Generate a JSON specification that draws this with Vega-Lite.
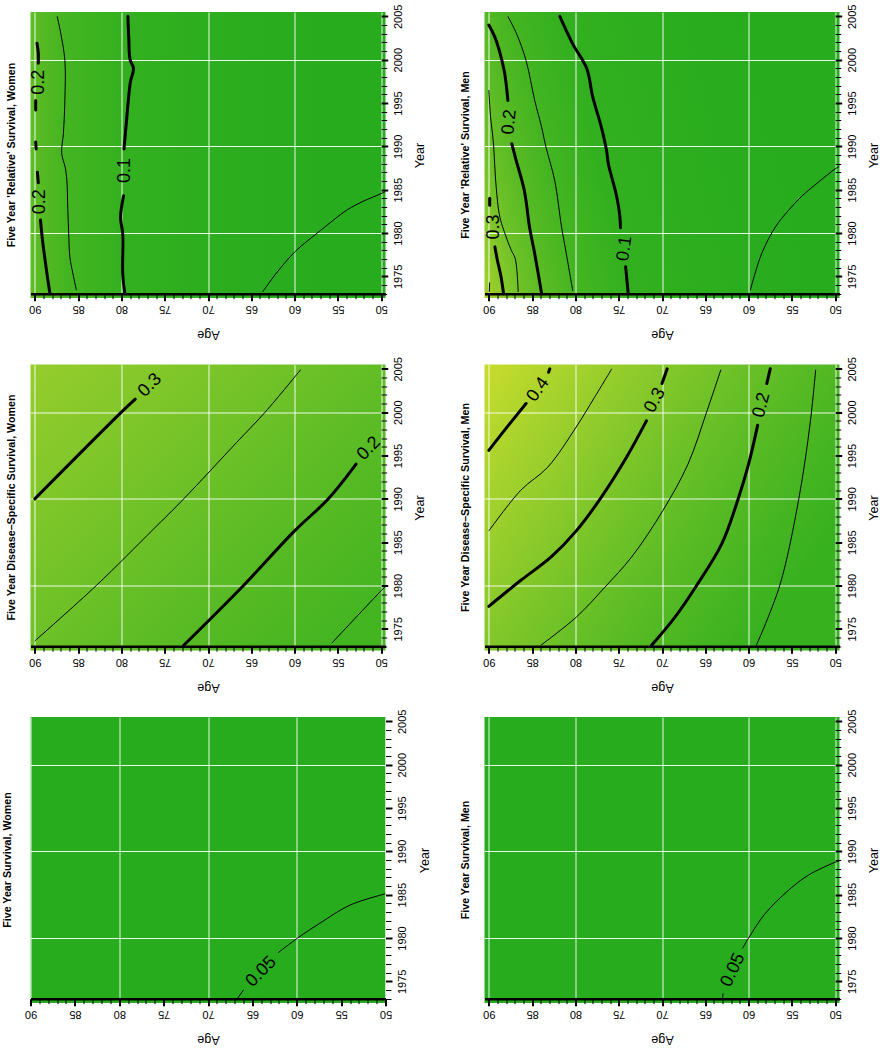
{
  "$schema": "https://vega.github.io/schema/vega-lite/v6.json",
  "padding": {"left": 1.5, "top": 4, "right": 0, "bottom": 0},
  "background": "white",
  "config": {"font": "Liberation Sans", "view": {"stroke": null}},
  "datasets": {
    "contours": [
      {"p":"RW","lev":0.2,"seg":"a","age":88.25,"year":1973},{"p":"RW","lev":0.2,"seg":"a","age":88.6,"year":1975.3},{"p":"RW","lev":0.2,"seg":"a","age":88.9,"year":1977.5},{"p":"RW","lev":0.2,"seg":"a","age":89.15,"year":1979.5},{"p":"RW","lev":0.2,"seg":"a","age":89.35,"year":1981.5},
      {"p":"RW","lev":0.2,"seg":"b","age":89.6,"year":1985.8},{"p":"RW","lev":0.2,"seg":"b","age":89.7,"year":1987.0},
      {"p":"RW","lev":0.2,"seg":"c","age":89.85,"year":1989.7},{"p":"RW","lev":0.2,"seg":"c","age":89.9,"year":1990.5},
      {"p":"RW","lev":0.2,"seg":"d","age":89.9,"year":1994.2},{"p":"RW","lev":0.2,"seg":"d","age":89.9,"year":1995.3},
      {"p":"RW","lev":0.2,"seg":"e","age":89.6,"year":1999.6},{"p":"RW","lev":0.2,"seg":"e","age":89.6,"year":2000.8},{"p":"RW","lev":0.2,"seg":"e","age":89.75,"year":2001.9},
      {"p":"RW","lev":0.15,"seg":"f","age":87.42,"year":2005},{"p":"RW","lev":0.15,"seg":"f","age":87.0,"year":2003},{"p":"RW","lev":0.15,"seg":"f","age":86.53,"year":1999.9},{"p":"RW","lev":0.15,"seg":"f","age":86.53,"year":1995.3},{"p":"RW","lev":0.15,"seg":"f","age":86.7,"year":1991.5},{"p":"RW","lev":0.15,"seg":"f","age":86.9,"year":1989.2},{"p":"RW","lev":0.15,"seg":"f","age":86.5,"year":1987.6},{"p":"RW","lev":0.15,"seg":"f","age":86.3,"year":1986.1},{"p":"RW","lev":0.15,"seg":"f","age":86.2,"year":1983},{"p":"RW","lev":0.15,"seg":"f","age":86.1,"year":1980.3},{"p":"RW","lev":0.15,"seg":"f","age":85.95,"year":1977.2},{"p":"RW","lev":0.15,"seg":"f","age":85.6,"year":1975.3},{"p":"RW","lev":0.15,"seg":"f","age":85.2,"year":1973.4},
      {"p":"RW","lev":0.1,"seg":"g","age":79.6,"year":1973},{"p":"RW","lev":0.1,"seg":"g","age":79.85,"year":1975.3},{"p":"RW","lev":0.1,"seg":"g","age":79.85,"year":1979.9},{"p":"RW","lev":0.1,"seg":"g","age":80.1,"year":1981.8},{"p":"RW","lev":0.1,"seg":"g","age":79.75,"year":1984.3},
      {"p":"RW","lev":0.1,"seg":"h","age":79.7,"year":1989.7},{"p":"RW","lev":0.1,"seg":"h","age":79.45,"year":1992.5},{"p":"RW","lev":0.1,"seg":"h","age":79.2,"year":1995.3},{"p":"RW","lev":0.1,"seg":"h","age":78.95,"year":1997.5},{"p":"RW","lev":0.1,"seg":"h","age":78.6,"year":1999},{"p":"RW","lev":0.1,"seg":"h","age":79.0,"year":2000},{"p":"RW","lev":0.1,"seg":"h","age":79.15,"year":2002.5},{"p":"RW","lev":0.1,"seg":"h","age":79.25,"year":2005},
      {"p":"RW","lev":0.05,"seg":"i","age":63.7,"year":1973.2},{"p":"RW","lev":0.05,"seg":"i","age":62.0,"year":1975.5},{"p":"RW","lev":0.05,"seg":"i","age":60.0,"year":1977.8},{"p":"RW","lev":0.05,"seg":"i","age":58.5,"year":1979.1},{"p":"RW","lev":0.05,"seg":"i","age":57.0,"year":1980.3},{"p":"RW","lev":0.05,"seg":"i","age":55.5,"year":1981.5},{"p":"RW","lev":0.05,"seg":"i","age":53.9,"year":1982.7},{"p":"RW","lev":0.05,"seg":"i","age":52.0,"year":1983.7},{"p":"RW","lev":0.05,"seg":"i","age":50.1,"year":1984.5},{"p":"RW","lev":0.05,"seg":"i","age":49.5,"year":1984.8},

      {"p":"RM","lev":0.3,"seg":"a","age":88.3,"year":1973},{"p":"RM","lev":0.3,"seg":"a","age":88.6,"year":1975},{"p":"RM","lev":0.3,"seg":"a","age":89.0,"year":1976.8},{"p":"RM","lev":0.3,"seg":"a","age":89.3,"year":1978.4},
      {"p":"RM","lev":0.3,"seg":"b","age":89.9,"year":1983.2},{"p":"RM","lev":0.3,"seg":"b","age":89.9,"year":1984.0},
      {"p":"RM","lev":0.35,"seg":"c","age":89.95,"year":1973.2},{"p":"RM","lev":0.35,"seg":"c","age":89.9,"year":1974.3},
      {"p":"RM","lev":0.25,"seg":"d","age":90,"year":1996.5},{"p":"RM","lev":0.25,"seg":"d","age":89.8,"year":1993.4},{"p":"RM","lev":0.25,"seg":"d","age":89.5,"year":1990.7},{"p":"RM","lev":0.25,"seg":"d","age":89.15,"year":1985.3},{"p":"RM","lev":0.25,"seg":"d","age":88.8,"year":1982.2},{"p":"RM","lev":0.25,"seg":"d","age":88.4,"year":1980.7},{"p":"RM","lev":0.25,"seg":"d","age":87.4,"year":1978},{"p":"RM","lev":0.25,"seg":"d","age":87.0,"year":1977.2},{"p":"RM","lev":0.25,"seg":"d","age":86.8,"year":1976.1},{"p":"RM","lev":0.25,"seg":"d","age":86.6,"year":1973.2},
      {"p":"RM","lev":0.2,"seg":"e","age":90,"year":2004},{"p":"RM","lev":0.2,"seg":"e","age":89.3,"year":2002.6},{"p":"RM","lev":0.2,"seg":"e","age":88.8,"year":2001.1},{"p":"RM","lev":0.2,"seg":"e","age":88.2,"year":1998.6},{"p":"RM","lev":0.2,"seg":"e","age":88.0,"year":1997.2},{"p":"RM","lev":0.2,"seg":"e","age":87.8,"year":1995.3},
      {"p":"RM","lev":0.2,"seg":"f","age":87.35,"year":1990.3},{"p":"RM","lev":0.2,"seg":"f","age":86.85,"year":1988.4},{"p":"RM","lev":0.2,"seg":"f","age":85.9,"year":1984.9},{"p":"RM","lev":0.2,"seg":"f","age":85.3,"year":1980.7},{"p":"RM","lev":0.2,"seg":"f","age":84.7,"year":1977.6},{"p":"RM","lev":0.2,"seg":"f","age":83.9,"year":1973},
      {"p":"RM","lev":0.15,"seg":"g","age":87.8,"year":2005},{"p":"RM","lev":0.15,"seg":"g","age":86.8,"year":2003},{"p":"RM","lev":0.15,"seg":"g","age":85.7,"year":1999.9},{"p":"RM","lev":0.15,"seg":"g","age":84.7,"year":1995.3},{"p":"RM","lev":0.15,"seg":"g","age":83.9,"year":1992.2},{"p":"RM","lev":0.15,"seg":"g","age":83.4,"year":1989.9},{"p":"RM","lev":0.15,"seg":"g","age":82.4,"year":1986.1},{"p":"RM","lev":0.15,"seg":"g","age":81.6,"year":1980.7},{"p":"RM","lev":0.15,"seg":"g","age":81.05,"year":1977.6},{"p":"RM","lev":0.15,"seg":"g","age":80.3,"year":1973.3},
      {"p":"RM","lev":0.1,"seg":"h","age":81.8,"year":2005},{"p":"RM","lev":0.1,"seg":"h","age":80.3,"year":2001.8},{"p":"RM","lev":0.1,"seg":"h","age":78.7,"year":1999.0},{"p":"RM","lev":0.1,"seg":"h","age":78.0,"year":1995.7},{"p":"RM","lev":0.1,"seg":"h","age":77.0,"year":1992.2},{"p":"RM","lev":0.1,"seg":"h","age":76.4,"year":1989.5},{"p":"RM","lev":0.1,"seg":"h","age":76.2,"year":1988.0},{"p":"RM","lev":0.1,"seg":"h","age":75.3,"year":1984.5},{"p":"RM","lev":0.1,"seg":"h","age":74.9,"year":1982.2},{"p":"RM","lev":0.1,"seg":"h","age":74.8,"year":1980.6},
      {"p":"RM","lev":0.1,"seg":"i","age":74.2,"year":1976.1},{"p":"RM","lev":0.1,"seg":"i","age":73.9,"year":1973},
      {"p":"RM","lev":0.05,"seg":"j","age":59.8,"year":1973.4},{"p":"RM","lev":0.05,"seg":"j","age":58.5,"year":1977.6},{"p":"RM","lev":0.05,"seg":"j","age":56.9,"year":1980.7},{"p":"RM","lev":0.05,"seg":"j","age":55.4,"year":1982.6},{"p":"RM","lev":0.05,"seg":"j","age":53.9,"year":1984.2},{"p":"RM","lev":0.05,"seg":"j","age":51.9,"year":1985.9},{"p":"RM","lev":0.05,"seg":"j","age":50.0,"year":1987.4},{"p":"RM","lev":0.05,"seg":"j","age":49.5,"year":1987.7},

      {"p":"DW","lev":0.3,"seg":"a","age":90,"year":1990},{"p":"DW","lev":0.3,"seg":"a","age":80,"year":2000},{"p":"DW","lev":0.3,"seg":"a","age":78.4,"year":2001.5},
      {"p":"DW","lev":0.25,"seg":"b","age":90,"year":1973.6},{"p":"DW","lev":0.25,"seg":"b","age":82.9,"year":1980},{"p":"DW","lev":0.25,"seg":"b","age":76.3,"year":1986.5},{"p":"DW","lev":0.25,"seg":"b","age":72.8,"year":1990},{"p":"DW","lev":0.25,"seg":"b","age":66.7,"year":1996.5},{"p":"DW","lev":0.25,"seg":"b","age":63.4,"year":2000},{"p":"DW","lev":0.25,"seg":"b","age":59.3,"year":2004.9},
      {"p":"DW","lev":0.2,"seg":"c","age":72.8,"year":1973.1},{"p":"DW","lev":0.2,"seg":"c","age":65.9,"year":1980},{"p":"DW","lev":0.2,"seg":"c","age":60,"year":1986.3},{"p":"DW","lev":0.2,"seg":"c","age":56.1,"year":1990},{"p":"DW","lev":0.2,"seg":"c","age":52.9,"year":1994},
      {"p":"DW","lev":0.15,"seg":"d","age":55.7,"year":1973.35},{"p":"DW","lev":0.15,"seg":"d","age":50,"year":1979.4},{"p":"DW","lev":0.15,"seg":"d","age":49.5,"year":1979.9},

      {"p":"DM","lev":0.4,"seg":"a","age":90,"year":1995.6},{"p":"DM","lev":0.4,"seg":"a","age":88.2,"year":1997.9},{"p":"DM","lev":0.4,"seg":"a","age":85.7,"year":2001.0},
      {"p":"DM","lev":0.4,"seg":"b","age":83.1,"year":2004.6},{"p":"DM","lev":0.4,"seg":"b","age":82.95,"year":2005},
      {"p":"DM","lev":0.35,"seg":"c","age":90,"year":1986.3},{"p":"DM","lev":0.35,"seg":"c","age":86.3,"year":1991.0},{"p":"DM","lev":0.35,"seg":"c","age":83.2,"year":1993.65},{"p":"DM","lev":0.35,"seg":"c","age":79.9,"year":1998.3},{"p":"DM","lev":0.35,"seg":"c","age":77.8,"year":2001.7},{"p":"DM","lev":0.35,"seg":"c","age":75.8,"year":2005},
      {"p":"DM","lev":0.3,"seg":"d","age":90,"year":1977.6},{"p":"DM","lev":0.3,"seg":"d","age":86.3,"year":1980.6},{"p":"DM","lev":0.3,"seg":"d","age":82.8,"year":1983.3},{"p":"DM","lev":0.3,"seg":"d","age":79.9,"year":1986.3},{"p":"DM","lev":0.3,"seg":"d","age":77.0,"year":1990.2},{"p":"DM","lev":0.3,"seg":"d","age":74.1,"year":1994.8},{"p":"DM","lev":0.3,"seg":"d","age":71.8,"year":1999.0},
      {"p":"DM","lev":0.3,"seg":"e","age":70.0,"year":2003.3},{"p":"DM","lev":0.3,"seg":"e","age":69.4,"year":2005},
      {"p":"DM","lev":0.25,"seg":"f","age":84.0,"year":1973.1},{"p":"DM","lev":0.25,"seg":"f","age":79.9,"year":1976.35},{"p":"DM","lev":0.25,"seg":"f","age":76.6,"year":1979.8},{"p":"DM","lev":0.25,"seg":"f","age":73.5,"year":1983.3},{"p":"DM","lev":0.25,"seg":"f","age":69.9,"year":1988.65},{"p":"DM","lev":0.25,"seg":"f","age":67.0,"year":1994.0},{"p":"DM","lev":0.25,"seg":"f","age":64.85,"year":2000},{"p":"DM","lev":0.25,"seg":"f","age":63.2,"year":2004.9},
      {"p":"DM","lev":0.2,"seg":"g","age":71.2,"year":1973.1},{"p":"DM","lev":0.2,"seg":"g","age":68.5,"year":1976.35},{"p":"DM","lev":0.2,"seg":"g","age":66.0,"year":1980},{"p":"DM","lev":0.2,"seg":"g","age":63.1,"year":1984.8},{"p":"DM","lev":0.2,"seg":"g","age":61.2,"year":1990},{"p":"DM","lev":0.2,"seg":"g","age":60.0,"year":1994.0},{"p":"DM","lev":0.2,"seg":"g","age":58.95,"year":1998.5},
      {"p":"DM","lev":0.2,"seg":"h","age":57.9,"year":2003.3},{"p":"DM","lev":0.2,"seg":"h","age":57.5,"year":2005},
      {"p":"DM","lev":0.15,"seg":"i","age":59.1,"year":1973.1},{"p":"DM","lev":0.15,"seg":"i","age":56.4,"year":1980},{"p":"DM","lev":0.15,"seg":"i","age":54.2,"year":1990},{"p":"DM","lev":0.15,"seg":"i","age":52.9,"year":1998.65},{"p":"DM","lev":0.15,"seg":"i","age":52.25,"year":2004.9},

      {"p":"FW","lev":0.05,"seg":"a","age":66.7,"year":1973.0},{"p":"FW","lev":0.05,"seg":"a","age":66.0,"year":1974.0},
      {"p":"FW","lev":0.05,"seg":"b","age":62.1,"year":1978.3},{"p":"FW","lev":0.05,"seg":"b","age":59.9,"year":1980.0},{"p":"FW","lev":0.05,"seg":"b","age":57.4,"year":1981.7},{"p":"FW","lev":0.05,"seg":"b","age":54.0,"year":1983.8},{"p":"FW","lev":0.05,"seg":"b","age":50.0,"year":1985.1},

      {"p":"FM","lev":0.05,"seg":"a","age":63.0,"year":1973.1},{"p":"FM","lev":0.05,"seg":"a","age":62.95,"year":1973.6},
      {"p":"FM","lev":0.05,"seg":"b","age":60.7,"year":1978.8},{"p":"FM","lev":0.05,"seg":"b","age":60.0,"year":1980.0},{"p":"FM","lev":0.05,"seg":"b","age":58.1,"year":1982.8},{"p":"FM","lev":0.05,"seg":"b","age":55.4,"year":1985.5},{"p":"FM","lev":0.05,"seg":"b","age":53.1,"year":1987.25},{"p":"FM","lev":0.05,"seg":"b","age":50.1,"year":1988.7},{"p":"FM","lev":0.05,"seg":"b","age":49.5,"year":1988.9}
    ],
    "labels": [
      {"p":"RW","lab":"0.2","age":89.45,"year":1983.6},
      {"p":"RW","lab":"0.2","age":89.5,"year":1997.4},
      {"p":"RW","lab":"0.1","age":79.6,"year":1987.2},
      {"p":"RM","lab":"0.3","age":89.4,"year":1980.7},
      {"p":"RM","lab":"0.2","age":87.6,"year":1992.8},
      {"p":"RM","lab":"0.1","age":74.3,"year":1978.2},
      {"p":"DW","lab":"0.3","age":76.7,"year":2003.1},
      {"p":"DW","lab":"0.2","age":51.4,"year":1995.8},
      {"p":"DM","lab":"0.4","age":84.3,"year":2002.6},
      {"p":"DM","lab":"0.3","age":70.8,"year":2001.35},
      {"p":"DM","lab":"0.2","age":58.5,"year":2000.8},
      {"p":"FW","lab":"0.05","age":64.0,"year":1976.1},
      {"p":"FM","lab":"0.05","age":61.8,"year":1976.3}
    ]
  },
  "columns": 2,
  "spacing": {"row": 66.5, "column": 99},
  "bounds": "flush",
  "concat": [
    {
      "width": 355, "height": 286,
      "view": {"stroke": null, "fill": {"gradient": "linear", "x1": 0, "y1": 0, "x2": 1, "y2": 0, "stops": [{"offset": 0, "color": "#60bd25"}, {"offset": 0.03, "color": "#57ba24"}, {"offset": 0.1, "color": "#44b521"}, {"offset": 0.27, "color": "#33b01f"}, {"offset": 0.6, "color": "#2aad1e"}, {"offset": 1, "color": "#26ac1d"}]}},
      "title": {"text": "Five Year 'Relative' Survival, Women", "orient": "left", "anchor": "middle", "fontSize": 10.7, "fontWeight": "bold", "offset": 11, "frame": "group", "color": "black"},
      "encoding": {
        "x": {"field": "age", "type": "quantitative", "scale": {"domain": [49.5, 90.5], "reverse": true, "nice": false, "zero": false},
          "axis": {"values": [50,51,52,53,54,55,56,57,58,59,60,61,62,63,64,65,66,67,68,69,70,71,72,73,74,75,76,77,78,79,80,81,82,83,84,85,86,87,88,89,90], "format": "d", "offset": -4.3, "domain": true, "domainColor": "black", "domainWidth": 2.5, "tickColor": "black", "tickSize": {"condition": {"test": "datum.value % 5 == 0", "value": 7}, "value": 5}, "tickWidth": {"condition": {"test": "datum.value % 5 == 0", "value": 2}, "value": 1}, "labelExpr": "datum.value % 5 == 0 ? datum.label : ''", "labelAngle": 180, "labelAlign": "center", "labelBaseline": "bottom", "labelFontSize": 11, "labelColor": "black", "labelPadding": 3, "labelFlush": false, "labelOverlap": false, "labelBound": false, "grid": true, "gridColor": "white", "gridWidth": 1, "gridOpacity": {"condition": {"test": "datum.value % 10 == 0", "value": 0.9}, "value": 0}, "title": "Age", "titleAngle": 180, "titleBaseline": "bottom", "titleFontSize": 12.5, "titleFontWeight": "normal", "titleColor": "black", "titlePadding": 13}},
        "y": {"field": "year", "type": "quantitative", "scale": {"domain": [1972.5, 2005.5], "nice": false, "zero": false},
          "axis": {"orient": "right", "values": [1973,1974,1975,1976,1977,1978,1979,1980,1981,1982,1983,1984,1985,1986,1987,1988,1989,1990,1991,1992,1993,1994,1995,1996,1997,1998,1999,2000,2001,2002,2003,2004,2005], "format": "d", "offset": -4.3, "domain": false, "tickColor": "black", "tickSize": {"condition": {"test": "datum.value % 5 == 0", "value": 6.5}, "value": 5.5}, "tickWidth": {"condition": {"test": "datum.value % 5 == 0", "value": 2}, "value": 1}, "labelExpr": "datum.value % 5 == 0 ? datum.label : ''", "labelAngle": 270, "labelAlign": "center", "labelBaseline": "top", "labelFontSize": 11, "labelColor": "black", "labelPadding": 4.5, "labelFlush": false, "labelOverlap": false, "labelBound": false, "grid": true, "gridColor": "white", "gridWidth": 1, "gridOpacity": {"condition": {"test": "datum.value % 10 == 0", "value": 0.9}, "value": 0}, "title": "Year", "titleAngle": 270, "titleBaseline": "top", "titleFontSize": 12.5, "titleFontWeight": "normal", "titleColor": "black", "titlePadding": 10.5}}
      },
      "layer": [
        {"data": {"values": [{}]}, "mark": {"type": "rule", "color": "black", "strokeWidth": 2.5}, "encoding": {"x": {"datum": 50}, "y": {"datum": 1975}, "y2": {"datum": 2005}}},
        {"data": {"name": "contours"}, "transform": [{"filter": "datum.p == 'RW' && round(datum.lev * 100) % 10 == 0"}], "mark": {"type": "line", "color": "black", "strokeWidth": 3, "strokeCap": "round", "interpolate": "catmull-rom", "clip": true}, "encoding": {"detail": {"field": "seg", "type": "nominal"}, "order": {"value": null}}},
        {"data": {"name": "contours"}, "transform": [{"filter": "datum.p == 'RW' && round(datum.lev * 100) % 10 != 0"}], "mark": {"type": "line", "color": "black", "strokeWidth": 1, "interpolate": "catmull-rom", "clip": true}, "encoding": {"detail": {"field": "seg", "type": "nominal"}, "order": {"value": null}}},
        {"data": {"name": "labels"}, "transform": [{"filter": "datum.p == 'RW'"}], "mark": {"type": "text", "angle": 270, "fontSize": 18, "align": "center", "baseline": "middle", "color": "black"}, "encoding": {"text": {"field": "lab"}}}
      ]
    },
    {
      "width": 355, "height": 286,
      "view": {"stroke": null, "fill": {"gradient": "linear", "x1": 0, "y1": 1, "x2": 1, "y2": 0.8, "stops": [{"offset": 0, "color": "#a3d12c"}, {"offset": 0.06, "color": "#86c82a"}, {"offset": 0.11, "color": "#6cc127"}, {"offset": 0.18, "color": "#57ba24"}, {"offset": 0.26, "color": "#44b521"}, {"offset": 0.4, "color": "#33b01f"}, {"offset": 0.75, "color": "#29ad1e"}, {"offset": 1, "color": "#26ac1d"}]}},
      "title": {"text": "Five Year 'Relative' Survival, Men", "orient": "left", "anchor": "middle", "fontSize": 10.7, "fontWeight": "bold", "offset": 11, "frame": "group", "color": "black"},
      "encoding": {
        "x": {"field": "age", "type": "quantitative", "scale": {"domain": [49.5, 90.5], "reverse": true, "nice": false, "zero": false},
          "axis": {"values": [50,51,52,53,54,55,56,57,58,59,60,61,62,63,64,65,66,67,68,69,70,71,72,73,74,75,76,77,78,79,80,81,82,83,84,85,86,87,88,89,90], "format": "d", "offset": -4.3, "domain": true, "domainColor": "black", "domainWidth": 2.5, "tickColor": "black", "tickSize": {"condition": {"test": "datum.value % 5 == 0", "value": 7}, "value": 5}, "tickWidth": {"condition": {"test": "datum.value % 5 == 0", "value": 2}, "value": 1}, "labelExpr": "datum.value % 5 == 0 ? datum.label : ''", "labelAngle": 180, "labelAlign": "center", "labelBaseline": "bottom", "labelFontSize": 11, "labelColor": "black", "labelPadding": 3, "labelFlush": false, "labelOverlap": false, "labelBound": false, "grid": true, "gridColor": "white", "gridWidth": 1, "gridOpacity": {"condition": {"test": "datum.value % 10 == 0", "value": 0.9}, "value": 0}, "title": "Age", "titleAngle": 180, "titleBaseline": "bottom", "titleFontSize": 12.5, "titleFontWeight": "normal", "titleColor": "black", "titlePadding": 13}},
        "y": {"field": "year", "type": "quantitative", "scale": {"domain": [1972.5, 2005.5], "nice": false, "zero": false},
          "axis": {"orient": "right", "values": [1973,1974,1975,1976,1977,1978,1979,1980,1981,1982,1983,1984,1985,1986,1987,1988,1989,1990,1991,1992,1993,1994,1995,1996,1997,1998,1999,2000,2001,2002,2003,2004,2005], "format": "d", "offset": -4.3, "domain": false, "tickColor": "black", "tickSize": {"condition": {"test": "datum.value % 5 == 0", "value": 6.5}, "value": 5.5}, "tickWidth": {"condition": {"test": "datum.value % 5 == 0", "value": 2}, "value": 1}, "labelExpr": "datum.value % 5 == 0 ? datum.label : ''", "labelAngle": 270, "labelAlign": "center", "labelBaseline": "top", "labelFontSize": 11, "labelColor": "black", "labelPadding": 4.5, "labelFlush": false, "labelOverlap": false, "labelBound": false, "grid": true, "gridColor": "white", "gridWidth": 1, "gridOpacity": {"condition": {"test": "datum.value % 10 == 0", "value": 0.9}, "value": 0}, "title": "Year", "titleAngle": 270, "titleBaseline": "top", "titleFontSize": 12.5, "titleFontWeight": "normal", "titleColor": "black", "titlePadding": 10.5}}
      },
      "layer": [
        {"data": {"values": [{}]}, "mark": {"type": "rule", "color": "black", "strokeWidth": 2.5}, "encoding": {"x": {"datum": 50}, "y": {"datum": 1975}, "y2": {"datum": 2005}}},
        {"data": {"name": "contours"}, "transform": [{"filter": "datum.p == 'RM' && round(datum.lev * 100) % 10 == 0"}], "mark": {"type": "line", "color": "black", "strokeWidth": 3, "strokeCap": "round", "interpolate": "catmull-rom", "clip": true}, "encoding": {"detail": {"field": "seg", "type": "nominal"}, "order": {"value": null}}},
        {"data": {"name": "contours"}, "transform": [{"filter": "datum.p == 'RM' && round(datum.lev * 100) % 10 != 0"}], "mark": {"type": "line", "color": "black", "strokeWidth": 1, "interpolate": "catmull-rom", "clip": true}, "encoding": {"detail": {"field": "seg", "type": "nominal"}, "order": {"value": null}}},
        {"data": {"name": "labels"}, "transform": [{"filter": "datum.p == 'RM' && datum.lab == '0.3'"}], "mark": {"type": "text", "angle": 270, "fontSize": 18, "align": "center", "baseline": "middle", "color": "black"}, "encoding": {"text": {"field": "lab"}}},
        {"data": {"name": "labels"}, "transform": [{"filter": "datum.p == 'RM' && datum.lab == '0.2'"}], "mark": {"type": "text", "angle": 276, "fontSize": 18, "align": "center", "baseline": "middle", "color": "black"}, "encoding": {"text": {"field": "lab"}}},
        {"data": {"name": "labels"}, "transform": [{"filter": "datum.p == 'RM' && datum.lab == '0.1'"}], "mark": {"type": "text", "angle": 278, "fontSize": 18, "align": "center", "baseline": "middle", "color": "black"}, "encoding": {"text": {"field": "lab"}}}
      ]
    },
    {
      "width": 355, "height": 286,
      "view": {"stroke": null, "fill": {"gradient": "linear", "x1": 0, "y1": 0, "x2": 1, "y2": 0.806, "stops": [{"offset": 0, "color": "#96cd2c"}, {"offset": 0.237, "color": "#82c72a"}, {"offset": 0.486, "color": "#6cc127"}, {"offset": 0.738, "color": "#57ba24"}, {"offset": 1, "color": "#43b521"}]}},
      "title": {"text": "Five Year Disease\u2013Specific Survival, Women", "orient": "left", "anchor": "middle", "fontSize": 10.7, "fontWeight": "bold", "offset": 11, "frame": "group", "color": "black"},
      "encoding": {
        "x": {"field": "age", "type": "quantitative", "scale": {"domain": [49.5, 90.5], "reverse": true, "nice": false, "zero": false},
          "axis": {"values": [50,51,52,53,54,55,56,57,58,59,60,61,62,63,64,65,66,67,68,69,70,71,72,73,74,75,76,77,78,79,80,81,82,83,84,85,86,87,88,89,90], "format": "d", "offset": -4.3, "domain": true, "domainColor": "black", "domainWidth": 2.5, "tickColor": "black", "tickSize": {"condition": {"test": "datum.value % 5 == 0", "value": 7}, "value": 5}, "tickWidth": {"condition": {"test": "datum.value % 5 == 0", "value": 2}, "value": 1}, "labelExpr": "datum.value % 5 == 0 ? datum.label : ''", "labelAngle": 180, "labelAlign": "center", "labelBaseline": "bottom", "labelFontSize": 11, "labelColor": "black", "labelPadding": 3, "labelFlush": false, "labelOverlap": false, "labelBound": false, "grid": true, "gridColor": "white", "gridWidth": 1, "gridOpacity": {"condition": {"test": "datum.value % 10 == 0", "value": 0.9}, "value": 0}, "title": "Age", "titleAngle": 180, "titleBaseline": "bottom", "titleFontSize": 12.5, "titleFontWeight": "normal", "titleColor": "black", "titlePadding": 13}},
        "y": {"field": "year", "type": "quantitative", "scale": {"domain": [1972.5, 2005.5], "nice": false, "zero": false},
          "axis": {"orient": "right", "values": [1973,1974,1975,1976,1977,1978,1979,1980,1981,1982,1983,1984,1985,1986,1987,1988,1989,1990,1991,1992,1993,1994,1995,1996,1997,1998,1999,2000,2001,2002,2003,2004,2005], "format": "d", "offset": -4.3, "domain": false, "tickColor": "black", "tickSize": {"condition": {"test": "datum.value % 5 == 0", "value": 6.5}, "value": 5.5}, "tickWidth": {"condition": {"test": "datum.value % 5 == 0", "value": 2}, "value": 1}, "labelExpr": "datum.value % 5 == 0 ? datum.label : ''", "labelAngle": 270, "labelAlign": "center", "labelBaseline": "top", "labelFontSize": 11, "labelColor": "black", "labelPadding": 4.5, "labelFlush": false, "labelOverlap": false, "labelBound": false, "grid": true, "gridColor": "white", "gridWidth": 1, "gridOpacity": {"condition": {"test": "datum.value % 10 == 0", "value": 0.9}, "value": 0}, "title": "Year", "titleAngle": 270, "titleBaseline": "top", "titleFontSize": 12.5, "titleFontWeight": "normal", "titleColor": "black", "titlePadding": 10.5}}
      },
      "layer": [
        {"data": {"values": [{}]}, "mark": {"type": "rule", "color": "black", "strokeWidth": 2.5}, "encoding": {"x": {"datum": 50}, "y": {"datum": 1975}, "y2": {"datum": 2005}}},
        {"data": {"name": "contours"}, "transform": [{"filter": "datum.p == 'DW' && round(datum.lev * 100) % 10 == 0"}], "mark": {"type": "line", "color": "black", "strokeWidth": 3, "strokeCap": "round", "interpolate": "catmull-rom", "clip": true}, "encoding": {"detail": {"field": "seg", "type": "nominal"}, "order": {"value": null}}},
        {"data": {"name": "contours"}, "transform": [{"filter": "datum.p == 'DW' && round(datum.lev * 100) % 10 != 0"}], "mark": {"type": "line", "color": "black", "strokeWidth": 1, "interpolate": "catmull-rom", "clip": true}, "encoding": {"detail": {"field": "seg", "type": "nominal"}, "order": {"value": null}}},
        {"data": {"name": "labels"}, "transform": [{"filter": "datum.p == 'DW'"}], "mark": {"type": "text", "angle": 315, "fontSize": 18, "align": "center", "baseline": "middle", "color": "black"}, "encoding": {"text": {"field": "lab"}}}
      ]
    },
    {
      "width": 355, "height": 286,
      "view": {"stroke": null, "fill": {"gradient": "linear", "x1": 0, "y1": 0, "x2": 1, "y2": 0.53, "stops": [{"offset": 0, "color": "#c9dc2b"}, {"offset": 0.145, "color": "#afd52d"}, {"offset": 0.28, "color": "#98ce2c"}, {"offset": 0.42, "color": "#82c72a"}, {"offset": 0.56, "color": "#6cc127"}, {"offset": 0.72, "color": "#57ba24"}, {"offset": 0.88, "color": "#44b521"}, {"offset": 1, "color": "#38b11f"}]}},
      "title": {"text": "Five Year Disease\u2013Specific Survival, Men", "orient": "left", "anchor": "middle", "fontSize": 10.7, "fontWeight": "bold", "offset": 11, "frame": "group", "color": "black"},
      "encoding": {
        "x": {"field": "age", "type": "quantitative", "scale": {"domain": [49.5, 90.5], "reverse": true, "nice": false, "zero": false},
          "axis": {"values": [50,51,52,53,54,55,56,57,58,59,60,61,62,63,64,65,66,67,68,69,70,71,72,73,74,75,76,77,78,79,80,81,82,83,84,85,86,87,88,89,90], "format": "d", "offset": -4.3, "domain": true, "domainColor": "black", "domainWidth": 2.5, "tickColor": "black", "tickSize": {"condition": {"test": "datum.value % 5 == 0", "value": 7}, "value": 5}, "tickWidth": {"condition": {"test": "datum.value % 5 == 0", "value": 2}, "value": 1}, "labelExpr": "datum.value % 5 == 0 ? datum.label : ''", "labelAngle": 180, "labelAlign": "center", "labelBaseline": "bottom", "labelFontSize": 11, "labelColor": "black", "labelPadding": 3, "labelFlush": false, "labelOverlap": false, "labelBound": false, "grid": true, "gridColor": "white", "gridWidth": 1, "gridOpacity": {"condition": {"test": "datum.value % 10 == 0", "value": 0.9}, "value": 0}, "title": "Age", "titleAngle": 180, "titleBaseline": "bottom", "titleFontSize": 12.5, "titleFontWeight": "normal", "titleColor": "black", "titlePadding": 13}},
        "y": {"field": "year", "type": "quantitative", "scale": {"domain": [1972.5, 2005.5], "nice": false, "zero": false},
          "axis": {"orient": "right", "values": [1973,1974,1975,1976,1977,1978,1979,1980,1981,1982,1983,1984,1985,1986,1987,1988,1989,1990,1991,1992,1993,1994,1995,1996,1997,1998,1999,2000,2001,2002,2003,2004,2005], "format": "d", "offset": -4.3, "domain": false, "tickColor": "black", "tickSize": {"condition": {"test": "datum.value % 5 == 0", "value": 6.5}, "value": 5.5}, "tickWidth": {"condition": {"test": "datum.value % 5 == 0", "value": 2}, "value": 1}, "labelExpr": "datum.value % 5 == 0 ? datum.label : ''", "labelAngle": 270, "labelAlign": "center", "labelBaseline": "top", "labelFontSize": 11, "labelColor": "black", "labelPadding": 4.5, "labelFlush": false, "labelOverlap": false, "labelBound": false, "grid": true, "gridColor": "white", "gridWidth": 1, "gridOpacity": {"condition": {"test": "datum.value % 10 == 0", "value": 0.9}, "value": 0}, "title": "Year", "titleAngle": 270, "titleBaseline": "top", "titleFontSize": 12.5, "titleFontWeight": "normal", "titleColor": "black", "titlePadding": 10.5}}
      },
      "layer": [
        {"data": {"values": [{}]}, "mark": {"type": "rule", "color": "black", "strokeWidth": 2.5}, "encoding": {"x": {"datum": 50}, "y": {"datum": 1975}, "y2": {"datum": 2005}}},
        {"data": {"name": "contours"}, "transform": [{"filter": "datum.p == 'DM' && round(datum.lev * 100) % 10 == 0"}], "mark": {"type": "line", "color": "black", "strokeWidth": 3, "strokeCap": "round", "interpolate": "catmull-rom", "clip": true}, "encoding": {"detail": {"field": "seg", "type": "nominal"}, "order": {"value": null}}},
        {"data": {"name": "contours"}, "transform": [{"filter": "datum.p == 'DM' && round(datum.lev * 100) % 10 != 0"}], "mark": {"type": "line", "color": "black", "strokeWidth": 1, "interpolate": "catmull-rom", "clip": true}, "encoding": {"detail": {"field": "seg", "type": "nominal"}, "order": {"value": null}}},
        {"data": {"name": "labels"}, "transform": [{"filter": "datum.p == 'DM' && datum.lab == '0.4'"}], "mark": {"type": "text", "angle": 305, "fontSize": 18, "align": "center", "baseline": "middle", "color": "black"}, "encoding": {"text": {"field": "lab"}}},
        {"data": {"name": "labels"}, "transform": [{"filter": "datum.p == 'DM' && datum.lab == '0.3'"}], "mark": {"type": "text", "angle": 298, "fontSize": 18, "align": "center", "baseline": "middle", "color": "black"}, "encoding": {"text": {"field": "lab"}}},
        {"data": {"name": "labels"}, "transform": [{"filter": "datum.p == 'DM' && datum.lab == '0.2'"}], "mark": {"type": "text", "angle": 285, "fontSize": 18, "align": "center", "baseline": "middle", "color": "black"}, "encoding": {"text": {"field": "lab"}}}
      ]
    },
    {
      "width": 355, "height": 286,
      "view": {"stroke": null, "fill": "#26ac1d"},
      "title": {"text": "Five Year Survival, Women", "orient": "left", "anchor": "middle", "fontSize": 10.7, "fontWeight": "bold", "offset": 11, "frame": "group", "color": "black"},
      "encoding": {
        "x": {"field": "age", "type": "quantitative", "scale": {"domain": [50, 90], "reverse": true, "nice": false, "zero": false},
          "axis": {"values": [50,51,52,53,54,55,56,57,58,59,60,61,62,63,64,65,66,67,68,69,70,71,72,73,74,75,76,77,78,79,80,81,82,83,84,85,86,87,88,89,90], "format": "d", "offset": -4.3, "domain": true, "domainColor": "black", "domainWidth": 2.5, "tickColor": "black", "tickSize": {"condition": {"test": "datum.value % 5 == 0", "value": 7}, "value": 5}, "tickWidth": {"condition": {"test": "datum.value % 5 == 0", "value": 2}, "value": 1}, "labelExpr": "datum.value % 5 == 0 ? datum.label : ''", "labelAngle": 180, "labelAlign": "center", "labelBaseline": "bottom", "labelFontSize": 11, "labelColor": "black", "labelPadding": 3, "labelFlush": false, "labelOverlap": false, "labelBound": false, "grid": true, "gridColor": "white", "gridWidth": 1, "gridOpacity": {"condition": {"test": "datum.value % 10 == 0", "value": 0.9}, "value": 0}, "title": "Age", "titleAngle": 180, "titleBaseline": "bottom", "titleFontSize": 12.5, "titleFontWeight": "normal", "titleColor": "black", "titlePadding": 13}},
        "y": {"field": "year", "type": "quantitative", "scale": {"domain": [1972.5, 2005.5], "nice": false, "zero": false},
          "axis": {"orient": "right", "values": [1973,1974,1975,1976,1977,1978,1979,1980,1981,1982,1983,1984,1985,1986,1987,1988,1989,1990,1991,1992,1993,1994,1995,1996,1997,1998,1999,2000,2001,2002,2003,2004,2005], "format": "d", "offset": 0, "domain": false, "tickColor": "black", "tickSize": {"condition": {"test": "datum.value % 5 == 0", "value": 6.5}, "value": 5.5}, "tickWidth": {"condition": {"test": "datum.value % 5 == 0", "value": 2}, "value": 1}, "labelExpr": "datum.value % 5 == 0 ? datum.label : ''", "labelAngle": 270, "labelAlign": "center", "labelBaseline": "top", "labelFontSize": 11, "labelColor": "black", "labelPadding": 4.5, "labelFlush": false, "labelOverlap": false, "labelBound": false, "grid": true, "gridColor": "white", "gridWidth": 1, "gridOpacity": {"condition": {"test": "datum.value % 10 == 0", "value": 0.9}, "value": 0}, "title": "Year", "titleAngle": 270, "titleBaseline": "top", "titleFontSize": 12.5, "titleFontWeight": "normal", "titleColor": "black", "titlePadding": 10.5}}
      },
      "layer": [
        {"data": {"values": [{}]}, "mark": {"type": "rule", "color": "black", "strokeWidth": 2.5}, "encoding": {"x": {"datum": 50}, "y": {"datum": 1975}, "y2": {"datum": 2005}}},
        {"data": {"name": "contours"}, "transform": [{"filter": "datum.p == 'FW'"}], "mark": {"type": "line", "color": "black", "strokeWidth": 1, "interpolate": "catmull-rom", "clip": true}, "encoding": {"detail": {"field": "seg", "type": "nominal"}, "order": {"value": null}}},
        {"data": {"name": "labels"}, "transform": [{"filter": "datum.p == 'FW'"}], "mark": {"type": "text", "angle": 315, "fontSize": 18, "align": "center", "baseline": "middle", "color": "black"}, "encoding": {"text": {"field": "lab"}}}
      ]
    },
    {
      "width": 355, "height": 286,
      "view": {"stroke": null, "fill": "#26ac1d"},
      "title": {"text": "Five Year Survival, Men", "orient": "left", "anchor": "middle", "fontSize": 10.7, "fontWeight": "bold", "offset": 11, "frame": "group", "color": "black"},
      "encoding": {
        "x": {"field": "age", "type": "quantitative", "scale": {"domain": [49.5, 90.5], "reverse": true, "nice": false, "zero": false},
          "axis": {"values": [50,51,52,53,54,55,56,57,58,59,60,61,62,63,64,65,66,67,68,69,70,71,72,73,74,75,76,77,78,79,80,81,82,83,84,85,86,87,88,89,90], "format": "d", "offset": -4.3, "domain": true, "domainColor": "black", "domainWidth": 2.5, "tickColor": "black", "tickSize": {"condition": {"test": "datum.value % 5 == 0", "value": 7}, "value": 5}, "tickWidth": {"condition": {"test": "datum.value % 5 == 0", "value": 2}, "value": 1}, "labelExpr": "datum.value % 5 == 0 ? datum.label : ''", "labelAngle": 180, "labelAlign": "center", "labelBaseline": "bottom", "labelFontSize": 11, "labelColor": "black", "labelPadding": 3, "labelFlush": false, "labelOverlap": false, "labelBound": false, "grid": true, "gridColor": "white", "gridWidth": 1, "gridOpacity": {"condition": {"test": "datum.value % 10 == 0", "value": 0.9}, "value": 0}, "title": "Age", "titleAngle": 180, "titleBaseline": "bottom", "titleFontSize": 12.5, "titleFontWeight": "normal", "titleColor": "black", "titlePadding": 13}},
        "y": {"field": "year", "type": "quantitative", "scale": {"domain": [1972.5, 2005.5], "nice": false, "zero": false},
          "axis": {"orient": "right", "values": [1973,1974,1975,1976,1977,1978,1979,1980,1981,1982,1983,1984,1985,1986,1987,1988,1989,1990,1991,1992,1993,1994,1995,1996,1997,1998,1999,2000,2001,2002,2003,2004,2005], "format": "d", "offset": -4.3, "domain": false, "tickColor": "black", "tickSize": {"condition": {"test": "datum.value % 5 == 0", "value": 6.5}, "value": 5.5}, "tickWidth": {"condition": {"test": "datum.value % 5 == 0", "value": 2}, "value": 1}, "labelExpr": "datum.value % 5 == 0 ? datum.label : ''", "labelAngle": 270, "labelAlign": "center", "labelBaseline": "top", "labelFontSize": 11, "labelColor": "black", "labelPadding": 4.5, "labelFlush": false, "labelOverlap": false, "labelBound": false, "grid": true, "gridColor": "white", "gridWidth": 1, "gridOpacity": {"condition": {"test": "datum.value % 10 == 0", "value": 0.9}, "value": 0}, "title": "Year", "titleAngle": 270, "titleBaseline": "top", "titleFontSize": 12.5, "titleFontWeight": "normal", "titleColor": "black", "titlePadding": 10.5}}
      },
      "layer": [
        {"data": {"values": [{}]}, "mark": {"type": "rule", "color": "black", "strokeWidth": 2.5}, "encoding": {"x": {"datum": 50}, "y": {"datum": 1975}, "y2": {"datum": 2005}}},
        {"data": {"name": "contours"}, "transform": [{"filter": "datum.p == 'FM'"}], "mark": {"type": "line", "color": "black", "strokeWidth": 1, "interpolate": "catmull-rom", "clip": true}, "encoding": {"detail": {"field": "seg", "type": "nominal"}, "order": {"value": null}}},
        {"data": {"name": "labels"}, "transform": [{"filter": "datum.p == 'FM'"}], "mark": {"type": "text", "angle": 295, "fontSize": 18, "align": "center", "baseline": "middle", "color": "black"}, "encoding": {"text": {"field": "lab"}}}
      ]
    }
  ]
}
